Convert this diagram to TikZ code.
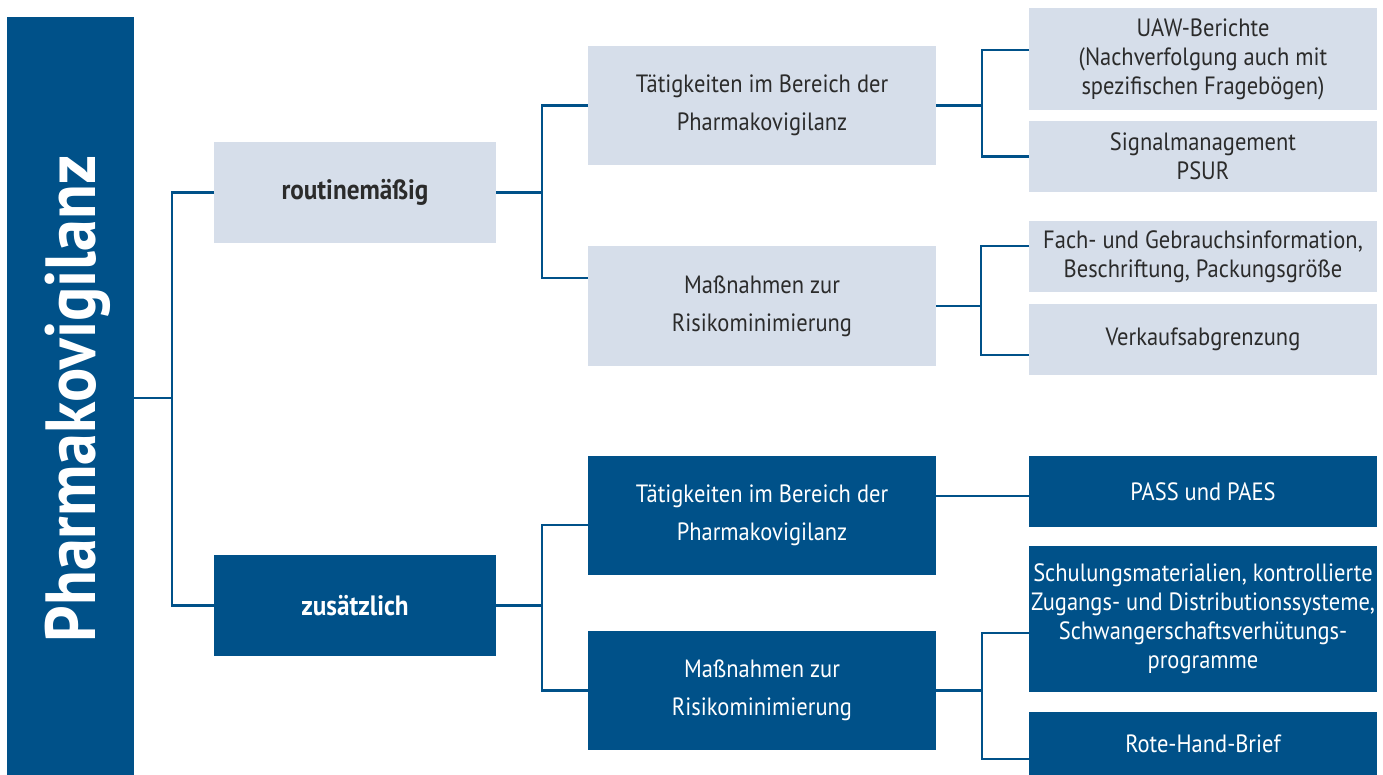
\documentclass[tikz,border=0pt]{standalone}
\usepackage{fontspec}
\setmainfont[FakeStretch=0.9]{PT Sans}
\definecolor{pvblue}{RGB}{0,81,137}
\definecolor{lightbg}{RGB}{214,222,234}
\definecolor{txt}{RGB}{43,43,43}
\tikzset{
  box/.style={inner sep=0pt, align=center, outer sep=0pt},
  lbox/.style={box, fill=lightbg, text=txt},
  dbox/.style={box, fill=pvblue, text=white},
  lvtwo/.style={minimum width=348pt, minimum height=119pt, font=\fontsize{25}{38}\selectfont},
  lvthree/.style={minimum width=348pt, font=\fontsize{25}{29}\selectfont},
  lvone/.style={minimum width=282pt, minimum height=101pt, font=\bfseries\fontsize{28}{30}\selectfont},
  conn/.style={draw=pvblue, line width=2.4pt}
}
\begin{document}
\begin{tikzpicture}[x=1pt,y=-1pt]
\useasboundingbox (0,0) rectangle (1383,775);
% main
\node[dbox, minimum width=127pt, minimum height=758pt] (main) at (70.5,396) {};
\node[text=white, font=\bfseries\fontsize{71}{75}\selectfont, rotate=90] (mainlbl) at (78,399) {Pharmakovigilanz};
% level 1
\node[lbox, lvone] (rout) at (355,192.5) {routinemäßig};
\node[dbox, lvone] (zus) at (355,605.5) {zusätzlich};
% level 2
\node[lbox, lvtwo] (t1) at (762,105.5) {Tätigkeiten im Bereich der\\Pharmakovigilanz};
\node[lbox, lvtwo] (m1) at (762,306) {Maßnahmen zur\\Risikominimierung};
\node[dbox, lvtwo] (t2) at (762,515.5) {Tätigkeiten im Bereich der\\Pharmakovigilanz};
\node[dbox, lvtwo] (m2) at (762,690.5) {Maßnahmen zur\\Risikominimierung};
% level 3
\node[lbox, lvthree, minimum height=102pt] (uaw) at (1203,59) {UAW-Berichte\\(Nachverfolgung auch mit\\spezifischen Fragebögen)};
\node[lbox, lvthree, minimum height=71pt] (sig) at (1203,156.5) {Signalmanagement\\PSUR};
\node[lbox, lvthree, minimum height=71pt] (fach) at (1203,256.5) {Fach- und Gebrauchsinformation,\\Beschriftung, Packungsgröße};
\node[lbox, lvthree, minimum height=71pt] (verk) at (1203,339.5) {Verkaufsabgrenzung};
\node[dbox, lvthree, minimum height=71pt] (pass) at (1203,491.5) {PASS und PAES};
\node[dbox, lvthree, minimum height=146pt] (schul) at (1203,619) {Schulungsmaterialien, kontrollierte\\Zugangs- und Distributionssysteme,\\Schwangerschaftsverhütungs-\\programme};
\node[dbox, lvthree, minimum height=63pt] (rote) at (1203,743.5) {Rote-Hand-Brief};
% connectors
\draw[conn] ([yshift=-2pt]main.east) -- (172,398) coordinate (j0);
\draw[conn] (rout.west) -| (j0) |- (zus.west);
\draw[conn] (rout.east) -- (542,192.5) coordinate (j1);
\draw[conn] (t1.west) -| (j1) |- ([yshift=28pt]m1.west);
\draw[conn] (zus.east) -- (542,605.5) coordinate (j2);
\draw[conn] ([yshift=-9.5pt]t2.west) -| (j2) |- (m2.west);
\draw[conn] (t1.east) -- (982,105.5) coordinate (j3);
\draw[conn] ([yshift=9pt]uaw.west) -| (j3) |- (sig.west);
\draw[conn] (m1.east) -- (981,306) coordinate (j4);
\draw[conn] ([yshift=10.5pt]fach.west) -| (j4) |- ([yshift=-15.5pt]verk.west);
\draw[conn] ([yshift=19.5pt]t2.east) -- (pass.west |- 0,496) coordinate (p5);
\draw[conn] (m2.east) -- (982,690.5) coordinate (j6);
\draw[conn] ([yshift=-14pt]schul.west) -| (j6) |- ([yshift=-15.5pt]rote.west);
\end{tikzpicture}
\end{document}
